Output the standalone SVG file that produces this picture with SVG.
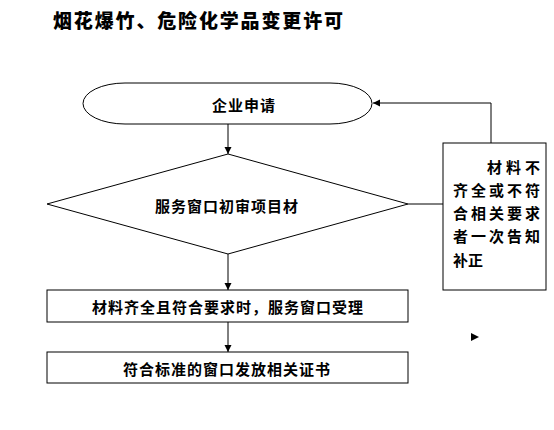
<svg xmlns="http://www.w3.org/2000/svg" width="554" height="430" viewBox="0 0 554 430">
<style>
.shape{fill:#fff;stroke:#000;stroke-width:1}
.conn{fill:none;stroke:#000;stroke-width:1}
.t{font-family:"Noto Sans CJK SC","Liberation Sans",sans-serif;font-weight:bold;font-size:15px;fill:#000}
.title{font-family:"Noto Sans CJK SC","Liberation Sans",sans-serif;font-weight:900;font-size:19px;fill:#000}
</style>
<defs>
<marker id="ah" markerWidth="8" markerHeight="8" refX="7" refY="4" orient="auto" markerUnits="userSpaceOnUse">
<path d="M0,0.5 L7,4 L0,7.5 Z" fill="#000"/>
</marker>
</defs>
<rect width="554" height="430" fill="#fff"/>
<text class="title" x="53" y="28" textLength="290" lengthAdjust="spacing">烟花爆竹、危险化学品变更许可</text>

<g id="connectors">
<line class="conn" x1="228" y1="124" x2="228" y2="154" marker-end="url(#ah)"/>
<line class="conn" x1="408" y1="204" x2="443" y2="204"/>
<polyline class="conn" points="491,143 491,103 373,103" marker-end="url(#ah)"/>
<line class="conn" x1="228" y1="254" x2="228" y2="290" marker-end="url(#ah)"/>
<line class="conn" x1="228" y1="322" x2="228" y2="352" marker-end="url(#ah)"/>
<path d="M471,333 L479,337 L471,341 Z" fill="#000"/>
</g>

<g id="start">
<rect class="shape" x="83" y="83" width="289" height="41" rx="42" ry="20.5"/>
<text class="t" x="212" y="111" textLength="63" lengthAdjust="spacing">企业申请</text>
</g>

<g id="review">
<polygon class="shape" points="228,154 408,204 228,254 47,204"/>
<text class="t" x="155" y="212" textLength="143" lengthAdjust="spacing">服务窗口初审项目材</text>
</g>

<g id="notify">
<rect class="shape" x="443" y="143" width="103" height="147"/>
<text class="t" x="487" y="173" textLength="53" lengthAdjust="spacing">材料不</text>
<text class="t" x="453" y="196" textLength="87" lengthAdjust="spacing">齐全或不符</text>
<text class="t" x="453" y="219" textLength="87" lengthAdjust="spacing">合相关要求</text>
<text class="t" x="453" y="242" textLength="87" lengthAdjust="spacing">者一次告知</text>
<text class="t" x="453" y="266">补正</text>
</g>

<g id="accept">
<rect class="shape" x="47" y="290" width="361" height="32"/>
<text class="t" x="92" y="313" textLength="271" lengthAdjust="spacing">材料齐全且符合要求时，服务窗口受理</text>
</g>

<g id="issue">
<rect class="shape" x="47" y="352" width="361" height="31"/>
<text class="t" x="123" y="375" textLength="207" lengthAdjust="spacing">符合标准的窗口发放相关证书</text>
</g>
</svg>
